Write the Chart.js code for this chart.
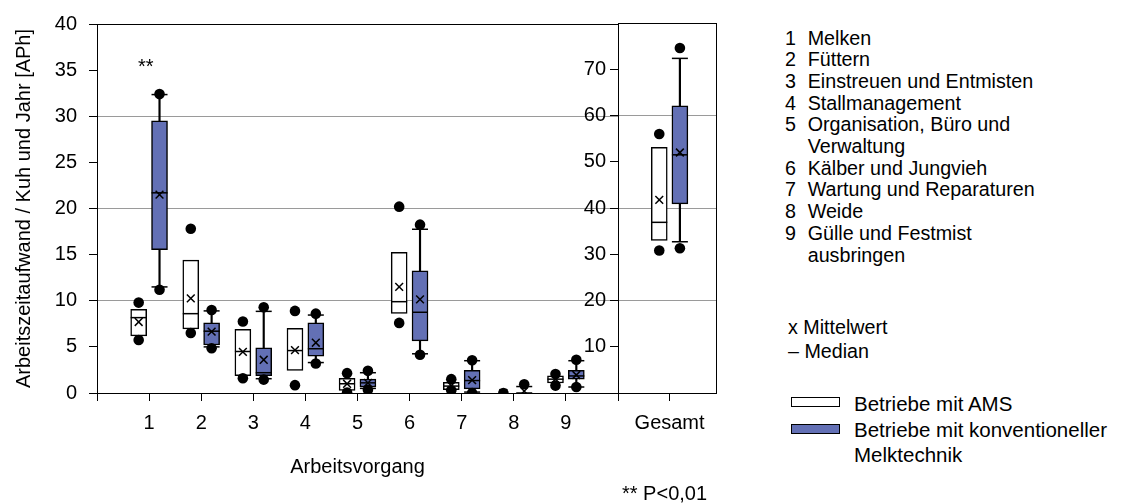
<!DOCTYPE html>
<html>
<head>
<meta charset="utf-8">
<script src="https://cdn.jsdelivr.net/npm/chart.js@4/dist/chart.umd.min.js"></script>
<style>
  body { margin: 0; background: #fff; }
  #wrap { position: relative; width: 1126px; height: 504px; overflow: hidden; font-family: 'Liberation Sans', Arial, sans-serif; color: #000; }
  canvas { position: absolute; top: 0; }
  .txt { position: absolute; white-space: nowrap; }
  .list { font-size: 19.7px; line-height: 21.7px; }
  .list .n { position: absolute; left: 0; }
  .list .t { position: relative; left: 22.7px; }
  .lg { font-size: 20.5px; line-height: 25px; }
  .swatch { position: absolute; width: 47px; height: 8px; border: 1.5px solid #000; }
</style>
</head>
<body>
<div id="wrap">
  <canvas id="mainChart" width="640" height="504" style="left:0"></canvas>
  <canvas id="totalChart" width="200" height="504" style="left:540px"></canvas>

  <div class="txt" style="left:138px; top:55px; font-size:20px;">**</div>
  <div class="txt" style="left:622px; top:482px; font-size:20px;">** P&lt;0,01</div>

  <div class="txt list" style="left:785px; top:27.5px;">
    <div><span class="n">1</span><span class="t">Melken</span></div>
    <div><span class="n">2</span><span class="t">Füttern</span></div>
    <div><span class="n">3</span><span class="t">Einstreuen und Entmisten</span></div>
    <div><span class="n">4</span><span class="t">Stallmanagement</span></div>
    <div><span class="n">5</span><span class="t">Organisation, Büro und</span></div>
    <div><span class="t">Verwaltung</span></div>
    <div><span class="n">6</span><span class="t">Kälber und Jungvieh</span></div>
    <div><span class="n">7</span><span class="t">Wartung und Reparaturen</span></div>
    <div><span class="n">8</span><span class="t">Weide</span></div>
    <div><span class="n">9</span><span class="t">Gülle und Festmist</span></div>
    <div><span class="t">ausbringen</span></div>
  </div>

  <div class="txt list" style="left:788px; top:315px; line-height:24.3px;">
    <div>x Mittelwert</div>
    <div>– Median</div>
  </div>

  <div class="swatch" style="left:791px; top:397px; background:#fff;"></div>
  <div class="swatch" style="left:791px; top:424px; background:#6370b5;"></div>
  <div class="txt lg" style="left:854px; top:391px;">Betriebe mit AMS</div>
  <div class="txt lg" style="left:854px; top:417px;">Betriebe mit konventioneller<br>Melktechnik</div>
</div>

<script>
// Arbeitszeitaufwand (APh je Kuh und Jahr) – Boxplots AMS vs. konventionell

// Arbeitsvorgänge 1-9
const categories = ['1', '2', '3', '4', '5', '6', '7', '8', '9'];

// Betriebe mit AMS
const amsQ1      = [6.2, 6.95, 1.87, 2.45, 0.28, 8.64, 0.35, null, 1.08];
const amsQ3      = [9.07, 14.4, 6.9, 7.0, 1.6, 15.25, 1.15, null, 1.87];
const amsMedian  = [8.17, 8.6, 4.5, 4.6, 1.0, 9.9, 0.75, null, 1.5];
const amsMean    = [7.7, 10.25, 4.45, 4.65, 1.0, 11.5, 0.8, 0, 1.5];
const amsOutHigh = [9.8, 17.8, 7.75, 8.9, 2.15, 20.2, 1.5, 0, 2.05];
const amsOutLow  = [5.75, 6.5, 1.6, 0.85, 0.05, 7.6, 0.3, null, 0.8];

// Betriebe mit konventioneller Melktechnik
const konvQ1       = [15.55, 5.2, 1.87, 4.0, 0.65, 5.65, 0.45, null, 1.5];
const konvQ3       = [29.5, 7.6, 4.9, 7.6, 1.5, 13.25, 2.45, null, 2.45];
const konvMedian   = [21.7, 6.7, 2.2, 4.8, 1.1, 8.75, 1.35, null, 1.85];
const konvMean     = [21.5, 6.65, 3.6, 5.45, 1.1, 10.15, 1.4, 0.2, 1.95];
const konvWhiskLow = [11.5, 5.0, 1.55, 3.3, 0.5, 4.25, 0.1, 0, 0.65];
const konvWhiskHigh= [32.35, 8.9, 8.85, 8.45, 2.2, 17.75, 3.5, 0.7, 3.5];
const konvOutHigh  = [32.4, 9.0, 9.3, 8.6, 2.4, 18.25, 3.55, 0.95, 3.6];
const konvOutLow   = [11.2, 4.85, 1.45, 3.2, 0.35, 4.15, 0, null, 0.65];

// Gesamt (rechte Achse)
const totalLabel = 'Gesamt';
const totalAms  = { q1: 33.0, q3: 53.1, median: 36.9, mean: 41.75, outHigh: 56.0, outLow: 30.8 };
const totalKonv = { q1: 40.9, q3: 62.1, median: 51.5, mean: 52.0, whiskLow: 32.7, whiskHigh: 72.35, outHigh: 74.6, outLow: 31.3 };

// styles
const FONT = { family: "'Liberation Sans', Arial, sans-serif", size: 20 };
const BLUE = '#6370b5';
const GRID = '#9a9a9a';
const OFF = 0.2;   // half distance between the two boxes

// helpers: turn arrays into points at category position (+/- offset)
function pts(arr, off) {
    return arr.map((v, i) => v == null ? null : { x: i + 1 + off, y: v }).filter(p => p);
}
function ranges(lo, hi, off) {
    return lo.map((v, i) => (v == null || hi[i] == null) ? null : { x: i + 1 + off, y: [v, hi[i]] }).filter(p => p);
}

// build all datasets for one group of boxes (lower order = drawn on top)
function boxDatasets(g, off, fill) {
    const ds = [];
    if (g.wLow) {
        ds.push({ type: 'bar', order: 6, data: ranges(g.wLow, g.q1, off), backgroundColor: '#000', barThickness: 1.5, grouped: false, borderWidth: 0 });
        ds.push({ type: 'bar', order: 6, data: ranges(g.q3, g.wHigh, off), backgroundColor: '#000', barThickness: 1.5, grouped: false, borderWidth: 0 });
        ds.push({ type: 'scatter', order: 4, data: pts(g.wLow, off).concat(pts(g.wHigh, off)), pointStyle: 'line', pointRadius: 8, borderColor: '#000', borderWidth: 1.5 });
    }
    ds.push({ type: 'bar', order: 5, data: ranges(g.q1, g.q3, off), backgroundColor: fill, borderColor: '#000', borderWidth: 1.5, borderSkipped: false, barThickness: 16, grouped: false });
    ds.push({ type: 'scatter', order: 3, data: pts(g.median, off), pointStyle: 'line', pointRadius: 8, borderColor: '#000', borderWidth: 1.5 });
    ds.push({ type: 'scatter', order: 2, data: pts(g.mean, off), pointStyle: 'crossRot', pointRadius: 5.5, borderColor: '#000', borderWidth: 1.5 });
    ds.push({ type: 'scatter', order: 1, data: pts(g.outHigh, off).concat(pts(g.outLow, off)), pointStyle: 'circle', pointRadius: 5.3, backgroundColor: '#000', borderWidth: 0 });
    return ds;
}

const ams  = { q1: amsQ1, q3: amsQ3, median: amsMedian, mean: amsMean, outHigh: amsOutHigh, outLow: amsOutLow };
const konv = { q1: konvQ1, q3: konvQ3, median: konvMedian, mean: konvMean, wLow: konvWhiskLow, wHigh: konvWhiskHigh, outHigh: konvOutHigh, outLow: konvOutLow };

Chart.defaults.font.family = FONT.family;
Chart.defaults.font.size = FONT.size;
Chart.defaults.color = '#000';

const commonPlugins = { legend: { display: false }, tooltip: { enabled: false } };

// left panel: Arbeitsvorgänge 1-9
new Chart(document.getElementById('mainChart'), {
    type: 'bar',
    data: { datasets: boxDatasets(ams, -OFF, '#fff').concat(boxDatasets(konv, OFF, BLUE)) },
    options: {
        responsive: false, animation: false, devicePixelRatio: 1,
        layout: { padding: { top: 23, right: 22, left: 0, bottom: 0 } },
        plugins: commonPlugins,
        scales: {
            x: {
                type: 'linear', min: 0, max: 10, offset: false,
                afterFit: s => { s.height = 111; },
                ticks: { stepSize: 1, padding: 10, callback: v => (v >= 1 && v <= 9) ? categories[v - 1] : '' },
                grid: { offset: false, drawOnChartArea: false, tickLength: 8, tickColor: '#000', tickWidth: 1 },
                border: { color: '#000', width: 1 },
                title: { display: true, text: 'Arbeitsvorgang', padding: { top: 0, bottom: 25 } }
            },
            y: {
                min: 0, max: 40,
                afterFit: s => { s.width = 97; },
                ticks: { stepSize: 5, padding: 12 },
                grid: {
                    color: c => c.tick.value === 40 ? '#000' : (c.tick.value % 10 === 0 && c.tick.value > 0 ? GRID : 'rgba(0,0,0,0)'),
                    tickColor: '#000', tickLength: 8, lineWidth: 1
                },
                border: { color: '#000', width: 1 },
                title: { display: true, text: 'Arbeitszeitaufwand / Kuh und Jahr [APh]', padding: { top: 12, bottom: 0 } }
            }
        }
    }
});

// right panel: Gesamt
const totalSets = boxDatasets(
    { q1: [totalAms.q1], q3: [totalAms.q3], median: [totalAms.median], mean: [totalAms.mean], outHigh: [totalAms.outHigh], outLow: [totalAms.outLow] },
    -OFF, '#fff'
).concat(boxDatasets(
    { q1: [totalKonv.q1], q3: [totalKonv.q3], median: [totalKonv.median], mean: [totalKonv.mean],
      wLow: [totalKonv.whiskLow], wHigh: [totalKonv.whiskHigh], outHigh: [totalKonv.outHigh], outLow: [totalKonv.outLow] },
    OFF, BLUE
));

new Chart(document.getElementById('totalChart'), {
    type: 'bar',
    data: { datasets: totalSets },
    options: {
        responsive: false, animation: false, devicePixelRatio: 1,
        layout: { padding: { top: 23, right: 23, left: 0, bottom: 0 } },
        plugins: commonPlugins,
        scales: {
            x: {
                type: 'linear', min: 0, max: 1.9, offset: false,
                afterFit: s => { s.height = 111; },
                afterBuildTicks: s => { s.ticks = [{ value: 1 }]; },
                ticks: { padding: 10, callback: () => totalLabel },
                grid: { offset: false, drawOnChartArea: false, tickLength: 8, tickColor: '#000' },
                border: { color: '#000', width: 1 }
            },
            y: {
                min: 0, max: 80,
                afterFit: s => { s.width = 78; },
                ticks: { stepSize: 10, padding: 4, callback: v => (v > 0 && v < 80) ? v : '' },
                grid: {
                    color: c => c.tick.value === 80 ? '#000' : (c.tick.value % 20 === 0 && c.tick.value > 0 ? GRID : 'rgba(0,0,0,0)'),
                    tickColor: c => (c.tick.value > 0 && c.tick.value < 80) ? '#000' : 'rgba(0,0,0,0)',
                    tickLength: 8
                },
                border: { color: '#000', width: 1 }
            },
            yRight: {
                position: 'right', min: 0, max: 80,
                afterFit: s => { s.width = 1; },
                ticks: { display: false },
                grid: { display: false },
                border: { color: '#000', width: 1 }
            }
        }
    }
});
</script>
</body>
</html>
